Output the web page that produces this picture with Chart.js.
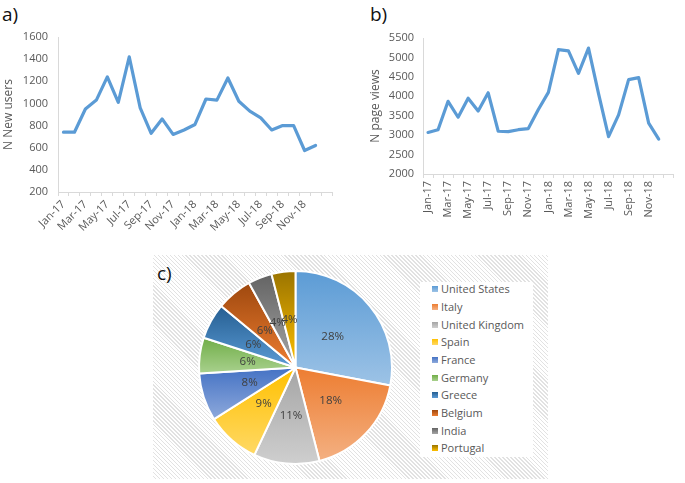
<!DOCTYPE html>
<html><head><meta charset="utf-8">
<script src="https://cdn.jsdelivr.net/npm/chart.js@4.4.0/dist/chart.umd.min.js"></script>
<style>
html,body{margin:0;padding:0;background:#fff;width:685px;height:483px;overflow:hidden;font-family:"Open Sans",sans-serif;}
.abs{position:absolute;}
.lbl{font-size:19px;color:#111;line-height:20px;}
#panel{left:153px;top:255px;width:395px;height:224px;background:repeating-linear-gradient(45deg,#ffffff 0px,#ffffff 1.8px,#e2e2e2 1.8px,#e2e2e2 2.8px);}
#legend{left:420px;top:282px;width:113px;height:175px;background:#fff;}
.item{position:absolute;left:0;height:16px;line-height:16px;font-size:11px;color:#595959;white-space:nowrap;}
.sw{position:absolute;left:12px;top:5px;width:6px;height:6px;}
.tx{position:absolute;left:21px;top:0;}
</style></head>
<body>
<div class="abs lbl" style="left:2px;top:4px;">a)</div>
<div class="abs lbl" style="left:370px;top:4px;">b)</div>
<canvas id="ca" class="abs" width="340" height="250" style="left:0;top:0;"></canvas>
<canvas id="cb" class="abs" width="345" height="250" style="left:340px;top:0;"></canvas>
<div id="panel" class="abs"></div>
<div class="abs lbl" style="left:157px;top:263px;">c)</div>
<canvas id="cc" class="abs" width="197" height="195" style="left:197px;top:270px;"></canvas>
<div id="legend" class="abs"></div>
<script>
const months = ['Jan-17','Feb-17','Mar-17','Apr-17','May-17','Jun-17','Jul-17','Aug-17','Sep-17','Oct-17','Nov-17','Dec-17',
                'Jan-18','Feb-18','Mar-18','Apr-18','May-18','Jun-18','Jul-18','Aug-18','Sep-18','Oct-18','Nov-18','Dec-18'];
const newUsers = [740,740,950,1030,1240,1010,1420,960,730,860,720,760,810,1040,1030,1230,1020,930,870,760,800,800,575,620];
const pageViews = [3070,3140,3870,3460,3950,3620,4090,3100,3090,3140,3170,3660,4100,5200,5170,4590,5240,4070,2960,3520,4430,4480,3310,2900];
const countries = ['United States','Italy','United Kingdom','Spain','France','Germany','Greece','Belgium','India','Portugal'];
const shares = [28,18,11,9,8,6,6,6,4,4];
const colTop = ['#5B9BD5','#ED7D31','#A5A5A5','#FFC000','#4472C4','#70AD47','#255E91','#9E480E','#636363','#997300'];
const colBot = ['#9DC3E6','#F4B183','#CFCFCF','#FFD966','#8FAADC','#A9D18E','#5B9BD5','#ED7D31','#A5A5A5','#FFC000'];

const GREY = '#595959';
const FONT = '"Open Sans", sans-serif';
const axisLabels = months.concat(['']);

function lineChart(id, data, yMin, yMax, step, title, cfg) {
  return new Chart(document.getElementById(id), {
    type: 'line',
    data: { labels: axisLabels, datasets: [{ data: data, borderColor: '#5B9BD5', borderWidth: 3.2,
      pointRadius: 0, tension: 0, fill: false, borderJoinStyle: 'round', borderCapStyle: 'round' }] },
    options: {
      responsive: false, animation: false,
      layout: { padding: cfg.padding },
      plugins: { legend: { display: false }, tooltip: { enabled: false } },
      scales: {
        x: {
          offset: true,
          grid: { offset: true, drawOnChartArea: false, drawTicks: true, tickLength: 4, color: '#D9D9D9' },
          border: { display: true, color: '#D9D9D9' },
          ticks: { autoSkip: false, minRotation: cfg.rot, maxRotation: cfg.rot, padding: cfg.xpad,
            color: GREY, font: { family: FONT, size: 11 },
            callback: function (v, i) { return (i % 2 === 0) ? axisLabels[i] : ''; } },
          afterFit: function (s) { s.height = cfg.xh; }
        },
        y: {
          min: yMin, max: yMax,
          grid: { display: false, drawTicks: false },
          border: { display: true, color: '#D9D9D9' },
          ticks: { stepSize: step, padding: cfg.ypad, color: GREY, font: { family: FONT, size: 11 },
            callback: function (v) { return String(v); } },
          title: { display: true, text: title, color: GREY, font: { family: FONT, size: 12 }, padding: { top: 1, bottom: 0 } },
          afterFit: function (s) { s.width = cfg.yw; }
        }
      }
    }
  });
}

lineChart('ca', newUsers, 200, 1600, 200, 'N New users',
  { padding: { left: 0, right: 8, top: 37, bottom: 0 }, rot: 45, xpad: 2, xh: 58, yw: 58, ypad: 10 });
lineChart('cb', pageViews, 2000, 5500, 500, 'N page views',
  { padding: { left: 27, right: 3, top: 38, bottom: 0 }, rot: 90, xpad: 3, xh: 76, yw: 56, ypad: 9 });

function sliceGradient(c) {
  const chart = c.chart, i = c.dataIndex, area = chart.chartArea;
  if (!area) return colTop[i];
  const cx = (area.left + area.right) / 2, cy = (area.top + area.bottom) / 2;
  const R = Math.min(area.right - area.left, area.bottom - area.top) / 2;
  const total = shares.reduce((a, b) => a + b, 0);
  let before = 0; for (let k = 0; k < i; k++) before += shares[k];
  const a0 = -Math.PI / 2 + before / total * 2 * Math.PI;
  const a1 = a0 + shares[i] / total * 2 * Math.PI;
  let ys = [cy, cy + R * Math.sin(a0), cy + R * Math.sin(a1)];
  const within = (a) => { let t = a; while (t < a0) t += 2 * Math.PI; return t <= a1; };
  if (within(Math.PI / 2)) ys.push(cy + R);
  if (within(-Math.PI / 2)) ys.push(cy - R);
  const y0 = Math.min.apply(null, ys), y1 = Math.max.apply(null, ys);
  const g = chart.ctx.createLinearGradient(0, y0, 0, y1 + 0.01);
  g.addColorStop(0, colTop[i]); g.addColorStop(1, colBot[i]);
  return g;
}

const pieLabels = {
  id: 'pieLabels',
  afterDatasetsDraw(chart) {
    const ctx = chart.ctx, meta = chart.getDatasetMeta(0);
    ctx.save();
    ctx.font = '11.5px ' + FONT; ctx.fillStyle = '#404040';
    ctx.textAlign = 'center'; ctx.textBaseline = 'middle';
    meta.data.forEach((arc, i) => { const p = arc.tooltipPosition(); ctx.fillText(shares[i] + '%', p.x, p.y); });
    ctx.restore();
  }
};

new Chart(document.getElementById('cc'), {
  type: 'pie',
  data: { labels: countries, datasets: [{ data: shares, backgroundColor: sliceGradient, borderColor: '#ffffff', borderWidth: 2 }] },
  options: { responsive: false, animation: false, layout: { padding: 0 },
    plugins: { legend: { display: false }, tooltip: { enabled: false } } },
  plugins: [pieLabels]
});

const leg = document.getElementById('legend');
countries.forEach((name, i) => {
  const d = document.createElement('div'); d.className = 'item';
  d.style.top = (289.3 - 282 + i * 17.67 - 8).toFixed(1) + 'px';
  d.innerHTML = '<span class="sw" style="background:linear-gradient(' + colTop[i] + ',' + colBot[i] + ')"></span><span class="tx">' + name + '</span>';
  leg.appendChild(d);
});
</script>
</body></html>
